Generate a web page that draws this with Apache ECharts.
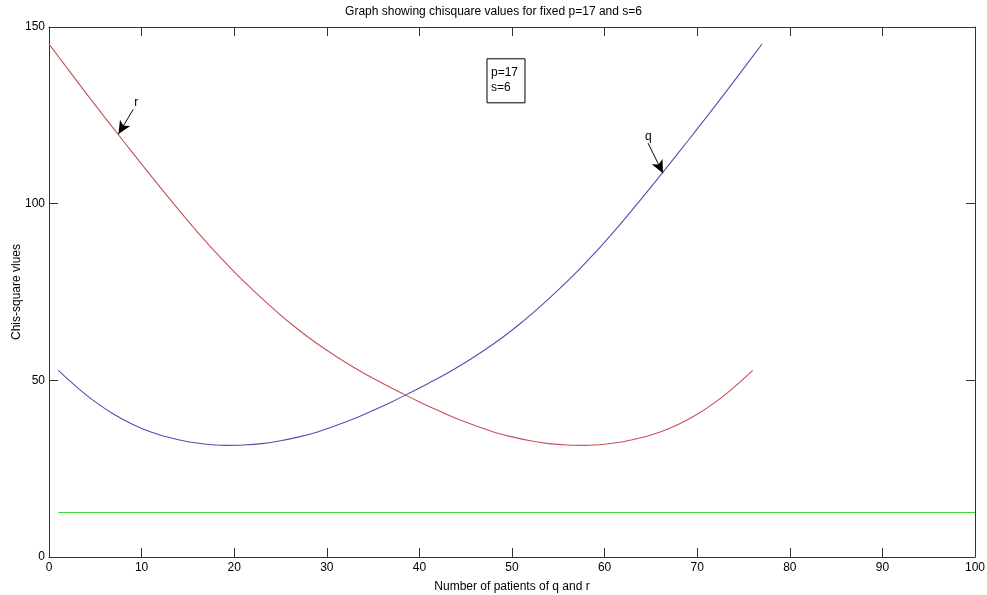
<!DOCTYPE html>
<html>
<head>
<meta charset="utf-8">
<script src="https://cdn.jsdelivr.net/npm/echarts@6/dist/echarts.min.js"></script>
<style>
html,body{margin:0;padding:0;background:#fff;}
#chart{width:987px;height:595px;}
</style>
</head>
<body>
<div id="chart"></div>
<script>
// ---- data ----
const rX = [0,2,4,6,8,10,12,14,16,18,20,22,24,26,28,30,32,34,36,38,40,42,44,46,48,50,52,54,56,58,60,62,64,66,68,70,72,74,76];
const rY = [145.2,138.2,131.3,124.5,117.8,111.2,104.7,98.3,92.1,86.2,80.7,75.6,70.8,66.3,62.2,58.5,55.1,52.0,49.2,46.5,43.9,41.5,39.2,37.2,35.4,34.0,32.9,32.1,31.7,31.6,31.9,32.6,33.8,35.4,37.6,40.4,43.9,48.1,52.8];
const qX = [1,3,5,7,9,11,13,15,17,19,21,23,25,27,29,31,33,35,37,39,41,43,45,47,49,51,53,55,57,59,61,63,65,67,69,71,73,75,77];
const qY = [52.8,48.1,43.9,40.4,37.6,35.4,33.8,32.6,31.9,31.6,31.7,32.1,32.9,34.0,35.4,37.2,39.2,41.5,43.9,46.5,49.2,52.0,55.1,58.5,62.2,66.3,70.8,75.6,80.7,86.2,92.1,98.3,104.7,111.2,117.8,124.5,131.3,138.2,145.2];
const critX = [1,100];
const critY = [12.59,12.59];
const xTicks = [0,10,20,30,40,50,60,70,80,90,100];
const yTicks = [0,50,100,150];
const titleText = 'Graph showing chisquare values for fixed p=17 and s=6';
const xName = 'Number of patients of q and r';
const yName = 'Chis-square vlues';
const boxText = 'p=17\ns=6';
// annotation arrows (data coordinates: [x, value])
const rArrow = [[9.1,126.7],[7.5,119.7]];
const qArrow = [[64.7,117.1],[66.3,108.6]];

const FONT = '"Liberation Sans Narrow", "Liberation Sans", Arial, sans-serif';
const chart = echarts.init(document.getElementById('chart'));

function pairs(xs, ys){ return xs.map((x,i)=>[x, ys[i]]); }
function arrowLine(pts){
  return {
    symbol:['none','arrow'], symbolSize:[9,13], silent:true, animation:false,
    lineStyle:{color:'#000', width:1, type:'solid'},
    label:{show:false},
    data:[[{coord:pts[0]},{coord:pts[1]}]]
  };
}
const lineC = '#333';
function xAx(pos, labels){
  return {
    type:'value', min:xTicks[0], max:xTicks[xTicks.length-1], interval:10, position:pos,
    axisLine:{show:true, onZero:false, lineStyle:{color:lineC, width:1}},
    axisTick:{show:true, inside:true, length:9, lineStyle:{color:lineC}},
    splitLine:{show:false},
    axisLabel:labels ? {show:true, fontFamily:FONT, fontSize:12, color:'#000', margin:5} : {show:false}
  };
}
function yAx(pos, labels){
  return {
    type:'value', min:yTicks[0], max:yTicks[yTicks.length-1], interval:50, position:pos,
    axisLine:{show:true, onZero:false, lineStyle:{color:lineC, width:1}},
    axisTick:{show:true, inside:true, length:9, lineStyle:{color:lineC}},
    splitLine:{show:false},
    axisLabel:labels ? {show:true, fontFamily:FONT, fontSize:12, color:'#000', margin:4} : {show:false}
  };
}
const xb = xAx('bottom', true);
xb.name = xName; xb.nameLocation = 'middle'; xb.nameGap = 24; xb.nameMoveOverlap = false;
xb.nameTextStyle = {fontFamily:FONT, fontSize:12, color:'#000'};
const yl = yAx('left', true);
yl.name = yName; yl.nameLocation = 'middle'; yl.nameGap = 26; yl.nameMoveOverlap = false;
yl.nameTextStyle = {fontFamily:FONT, fontSize:12, color:'#000'};

chart.setOption({
  animation:false,
  backgroundColor:'#fff',
  title:{text:titleText, left:'center', top:1,
    textStyle:{fontFamily:FONT, fontSize:12, fontWeight:'normal', color:'#000'}},
  grid:{left:49, right:12, top:27, bottom:38, show:false, containLabel:false, outerBoundsMode:'none'},
  xAxis:[xb, xAx('top', false)],
  yAxis:[yl, yAx('right', false)],
  series:[
    {name:'r', type:'line', data:pairs(rX,rY), smooth:0.4, showSymbol:false,
      lineStyle:{color:'#c8505a', width:1.1},
      markLine:arrowLine(rArrow)},
    {name:'q', type:'line', data:pairs(qX,qY), smooth:0.4, showSymbol:false,
      lineStyle:{color:'#5050b4', width:1.1},
      markLine:arrowLine(qArrow)},
    {name:'crit', type:'line', data:pairs(critX,critY), showSymbol:false,
      lineStyle:{color:'#3ad83a', width:1.1}}
  ]
});

// annotation texts positioned via the chart's own coordinate conversion
function place(){
  const pr = chart.convertToPixel({gridIndex:0}, rArrow[0]);
  const pq = chart.convertToPixel({gridIndex:0}, qArrow[0]);
  const pb = chart.convertToPixel({gridIndex:0}, [47.3,141]);
  chart.setOption({graphic:[
    {type:'text', left:pr[0]+1, top:pr[1]-13, style:{text:'r', font:'12px '+FONT, fill:'#000'}},
    {type:'text', left:pq[0]-3, top:pq[1]-13, style:{text:'q', font:'12px '+FONT, fill:'#000'}},
    {type:'rect', shape:{x:pb[0], y:pb[1], width:38, height:44},
      style:{fill:'#fff', stroke:'#000', lineWidth:1}},
    {type:'text', x:pb[0]+4, y:pb[1]+6, style:{text:boxText, font:'12px '+FONT, fill:'#000', lineHeight:15}}
  ]});
}
place();
</script>
</body>
</html>
